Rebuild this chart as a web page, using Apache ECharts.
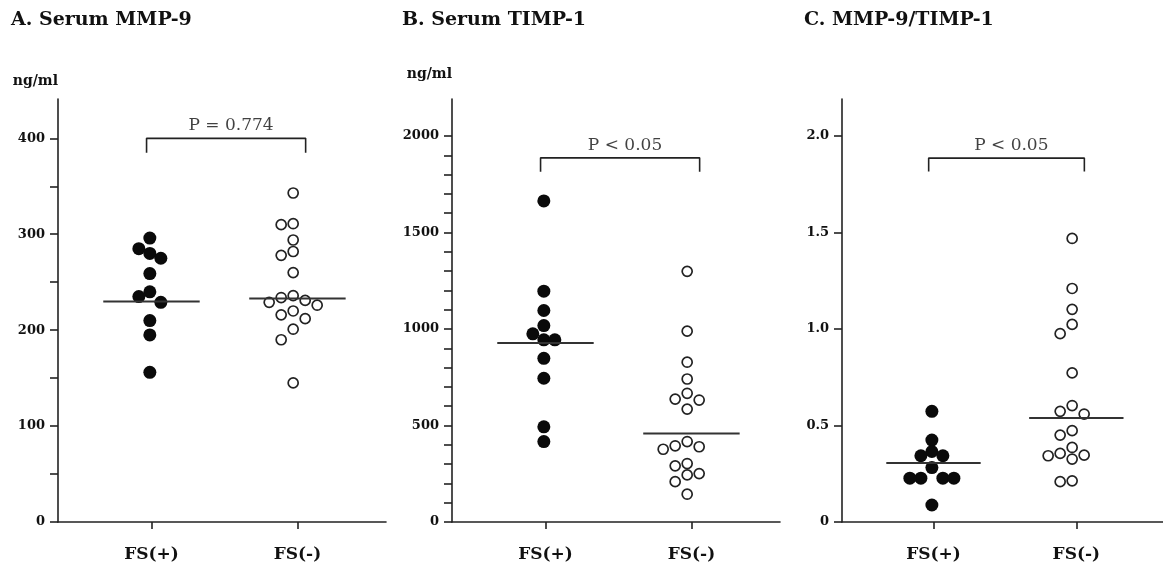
<!DOCTYPE html>
<html>
<head>
<meta charset="utf-8">
<script src="https://cdn.jsdelivr.net/npm/echarts@6/dist/echarts.min.js"></script>
<style>
  html, body { margin: 0; padding: 0; background: #fff; }
  #chart { width: 1163px; height: 569px; }
</style>
</head>
<body>
<div id="chart"></div>
<script>
// data
var groups = ['FS(+)', 'FS(-)'];
var panelTitles = ['A. Serum MMP-9', 'B. Serum TIMP-1', 'C. MMP-9/TIMP-1'];
var unitNames = ['ng/ml', 'ng/ml', ''];
var pTexts = ['P = 0.774', 'P < 0.05', 'P < 0.05'];

var mmpPos = [296, 285, 280, 275, 259, 240, 235, 229, 210, 195, 156];
var mmpNeg = [343, 311, 310, 294, 282, 278, 260, 236, 234, 231, 229, 226, 220, 216, 212, 201, 190, 145];
var timpPos = [1664, 1196, 1096, 1018, 975, 944, 944, 848, 745, 493, 417];
var timpNeg = [1299, 989, 828, 741, 667, 637, 632, 585, 417, 395, 390, 377, 303, 291, 251, 244, 209, 144];
var ratioPos = [0.573, 0.424, 0.365, 0.343, 0.343, 0.282, 0.227, 0.227, 0.227, 0.227, 0.088];
var ratioNeg = [1.468, 1.209, 1.101, 1.023, 0.975, 0.772, 0.603, 0.573, 0.559, 0.473, 0.450, 0.386, 0.355, 0.346, 0.343, 0.326, 0.213, 0.209];

var mmpMedian = [230, 233];
var timpMedian = [928, 459];
var ratioMedian = [0.305, 0.539];

// bracket heights (top, foot) per panel
var bracketTop = [400, 1887, 1.884];
var bracketFoot = [385, 1815, 1.815];

var yMax = [441, 2192, 2.19];
var yLabels = [
    [0, 100, 200, 300, 400],
    [0, 500, 1000, 1500, 2000],
    [0, 0.5, 1.0, 1.5, 2.0]
];
var yTicks = [
    [0, 50, 100, 150, 200, 250, 300, 350, 400],
    [0, 100, 200, 300, 400, 500, 600, 700, 800, 900, 1000, 1100, 1200, 1300, 1400, 1500, 1600, 1700, 1800, 1900, 2000],
    [0, 0.5, 1.0, 1.5, 2.0]
];

var posSets = [mmpPos, timpPos, ratioPos];
var negSets = [mmpNeg, timpNeg, ratioNeg];
var medians = [mmpMedian, timpMedian, ratioMedian];

// layout
var catPos = [0.285, 0.73];
var dotPos = [0.28, 0.717];
var medHalf = 0.147;
var bracketX = [0.27, 0.755];
var textShift = 0.015;
var grids = [
    { left: 58, right: 777, top: 99, bottom: 47 },
    { left: 452, right: 383, top: 99, bottom: 47 },
    { left: 842, right: 0, top: 99, bottom: 47 }
];
var nameGaps = [18, 25, 18];
var titleLeft = [11, 402, 804];

var serif = '"DejaVu Serif", "Liberation Serif", serif';
var ink = '#111';
var axisStyle = { color: '#222', width: 1.6 };

var myChart = echarts.init(document.getElementById('chart'));

var option = {
    animation: false,
    backgroundColor: '#fff',
    title: [],
    grid: grids,
    xAxis: [],
    yAxis: [],
    series: []
};

for (var i = 0; i < 3; i++) {
    option.title.push({
        text: panelTitles[i],
        left: titleLeft[i],
        top: 11,
        padding: 0,
        textStyle: { fontFamily: serif, fontWeight: 'bold', fontSize: 19, color: ink }
    });

    option.xAxis.push({
        type: 'value',
        gridIndex: i,
        min: 0,
        max: 1,
        splitLine: { show: false },
        axisLine: { onZero: false, lineStyle: axisStyle },
        axisTick: { show: true, customValues: catPos, length: 7, lineStyle: axisStyle },
        axisLabel: {
            customValues: catPos,
            margin: 24,
            fontFamily: serif,
            fontWeight: 'bold',
            fontSize: 17,
            color: ink,
            formatter: function(v) {
                var k = catPos.indexOf(v);
                return k < 0 ? '' : groups[k];
            }
        }
    });

    option.yAxis.push({
        type: 'value',
        gridIndex: i,
        min: 0,
        max: yMax[i],
        name: unitNames[i],
        nameLocation: 'end',
        nameGap: nameGaps[i],
        nameTextStyle: {
            align: 'right',
            verticalAlign: 'middle',
            fontFamily: serif,
            fontWeight: 'bold',
            fontSize: 14,
            color: ink
        },
        splitLine: { show: false },
        axisLine: { show: true, lineStyle: axisStyle },
        axisTick: { show: true, customValues: yTicks[i], length: 8, lineStyle: axisStyle },
        axisLabel: {
            customValues: yLabels[i],
            margin: 13,
            fontFamily: serif,
            fontWeight: 'bold',
            fontSize: 13,
            color: ink,
            formatter: (function(idx) {
                return function(v) {
                    if (idx === 2) return v === 0 ? '0' : v.toFixed(1);
                    return String(v);
                };
            })(i)
        }
    });

    // FS(+) filled dots
    option.series.push({
        id: 'pos' + i,
        type: 'scatter',
        xAxisIndex: i,
        yAxisIndex: i,
        symbol: 'circle',
        symbolSize: 13,
        itemStyle: { color: '#0a0a0a', opacity: 1 },
        z: 3,
        data: posSets[i].map(function(v) { return [dotPos[0], v]; })
    });
    // FS(-) open circles
    option.series.push({
        id: 'neg' + i,
        type: 'scatter',
        xAxisIndex: i,
        yAxisIndex: i,
        symbol: 'circle',
        symbolSize: 10,
        itemStyle: { color: '#fff', borderColor: '#222', borderWidth: 1.7, opacity: 1 },
        z: 3,
        data: negSets[i].map(function(v) { return [dotPos[1], v]; })
    });
    // median bars
    for (var g = 0; g < 2; g++) {
        option.series.push({
            type: 'line',
            xAxisIndex: i,
            yAxisIndex: i,
            symbol: 'none',
            silent: true,
            z: 4,
            lineStyle: { color: '#333', width: 2 },
            data: [[catPos[g] - medHalf, medians[i][g]], [catPos[g] + medHalf, medians[i][g]]]
        });
    }
    // significance bracket
    option.series.push({
        type: 'line',
        xAxisIndex: i,
        yAxisIndex: i,
        symbol: 'none',
        silent: true,
        lineStyle: { color: '#222', width: 1.6 },
        data: [
            [bracketX[0], bracketFoot[i]],
            [bracketX[0], bracketTop[i]],
            [bracketX[1], bracketTop[i]],
            [bracketX[1], bracketFoot[i]]
        ]
    });
    // p-value text
    option.series.push({
        type: 'scatter',
        xAxisIndex: i,
        yAxisIndex: i,
        symbolSize: 0,
        silent: true,
        label: {
            show: true,
            position: 'top',
            distance: 4,
            formatter: pTexts[i],
            fontFamily: serif,
            fontSize: 17,
            color: ink
        },
        data: [[(bracketX[0] + bracketX[1]) / 2 + textShift, bracketTop[i]]]
    });
}

myChart.setOption(option);

// beeswarm: spread tied dots sideways using the chart's own pixel scale
function swarm(values, gi, center, step, minDist) {
    var p0 = myChart.convertToPixel({ xAxisIndex: gi, yAxisIndex: gi }, [0, 0]);
    var p1 = myChart.convertToPixel({ xAxisIndex: gi, yAxisIndex: gi }, [1, 0]);
    var pxPerX = p1[0] - p0[0];
    var order = values.map(function(v, k) { return k; })
        .sort(function(a, b) { return values[b] - values[a]; });
    var placed = [];
    var out = new Array(values.length);
    order.forEach(function(k) {
        var py = myChart.convertToPixel({ xAxisIndex: gi, yAxisIndex: gi }, [0, values[k]])[1];
        var px = 0;
        for (var n = 0; n < 30; n++) {
            var slot = n === 0 ? 0 : (n % 2 ? -Math.ceil(n / 2) : Math.ceil(n / 2));
            px = slot * step;
            var ok = placed.every(function(q) {
                return Math.sqrt((q[0] - px) * (q[0] - px) + (q[1] - py) * (q[1] - py)) >= minDist;
            });
            if (ok) break;
        }
        placed.push([px, py]);
        out[k] = [center + px / pxPerX, values[k]];
    });
    return out;
}

var upd = [];
for (var j = 0; j < 3; j++) {
    upd.push({ id: 'pos' + j, data: swarm(posSets[j], j, dotPos[0], 11, 11) });
    upd.push({ id: 'neg' + j, data: swarm(negSets[j], j, dotPos[1], 12, 11) });
}
myChart.setOption({ series: upd });
</script>
</body>
</html>
